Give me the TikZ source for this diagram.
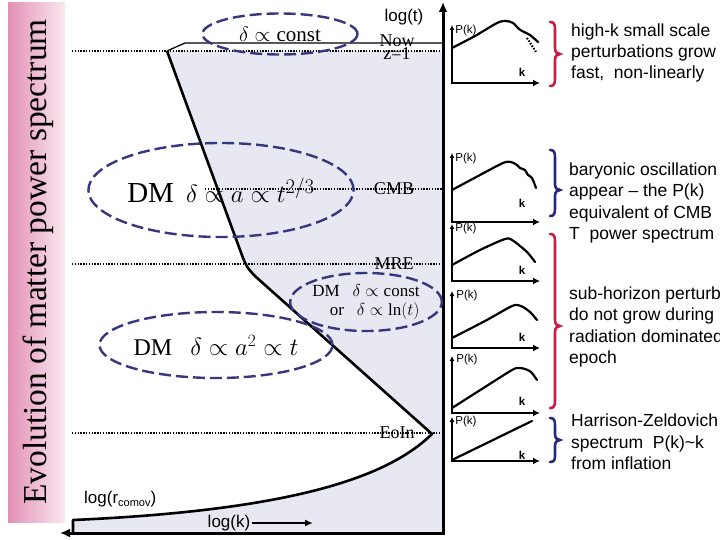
\documentclass[tikz,border=0pt]{standalone}
\usepackage{fontspec}
\setmainfont{Liberation Serif}
\newfontfamily\arialf{Liberation Sans}
\usetikzlibrary{arrows.meta,shapes.geometric}
\definecolor{shadecol}{RGB}{232,232,243}
\definecolor{ellblue}{RGB}{55,55,125}
\definecolor{bracered}{RGB}{200,30,70}
\definecolor{braceblue}{RGB}{40,40,130}
\definecolor{pinkL}{RGB}{226,145,182}
\definecolor{pinkR}{RGB}{250,232,240}
\begin{document}
\begin{tikzpicture}[x=1pt,y=-1pt,
  dotline/.style={line width=2.8pt, dash pattern=on 1.4pt off 1.4pt},
  ellip/.style={ellipse, draw=ellblue, line width=2.4pt, dash pattern=on 12pt off 5pt, inner sep=0pt},
  linelabel/.style={font=\fontsize{18}{20}\selectfont, inner sep=0pt},
  axisbig/.style={line width=3pt},
  pkaxis/.style={line width=2.6pt, {Latex[length=5pt,width=5pt]}-{Latex[length=7pt,width=7pt]}},
  pkcurve/.style={line width=2.2pt, line join=round, line cap=round},
  pklab/.style={font=\arialf\fontsize{11.5}{12}\selectfont, inner sep=0pt},
  klab/.style={font=\arialf\bfseries\fontsize{11.5}{12}\selectfont, inner sep=0pt},
  bracestyle/.style={line width=2.6pt, line cap=round},
  righttext/.style={font=\arialf\fontsize{17.5}{21.3}\selectfont, align=left, anchor=west, inner sep=0pt},
  axlab/.style={font=\arialf\fontsize{17}{19}\selectfont, inner sep=0pt}]
\useasboundingbox (0,0) rectangle (720,540);
\fill[white] (0,0) rectangle (720,540);

% left title bar
\shade[left color=pinkL, right color=pinkR] (8,3) rectangle (65,522);
\node[rotate=90, font=\fontsize{33.5}{36}\selectfont, inner sep=0pt] (title) at (38,262) {Evolution of matter power spectrum};

% shaded region
\fill[shadecol] (167,51) -- (443,51) -- (443,533) -- (73,533) -- (73,520)
  .. controls (300,510) and (390,475) .. (432,434) -- (256,277)
  .. controls (250,271) and (247,268) .. (243,258) -- cycle;

% dotted epoch lines
\coordinate (nowL) at (72,51);   \coordinate (nowR) at (443,51);
\coordinate (cmbL) at (205,189); \coordinate (cmbR) at (443,189);
\coordinate (mreL) at (72,264);  \coordinate (mreR) at (443,264);
\coordinate (eoiL) at (72,433);  \coordinate (eoiR) at (443,433);
\draw[dotline] (nowL) -- (nowR);
\draw[dotline] (cmbL) -- (cmbR);
\draw[dotline] (mreL) -- (mreR);
\draw[dotline] (eoiL) -- (eoiR);

% horizon curve
\draw[line width=1.3pt] (167,51) -- (176,47) -- (185,43) -- (443,43);
\draw[line width=2.6pt, line join=round] (167,51) -- (243,258)
  .. controls (247,268) and (250,271) .. (256,277) -- (432,434)
  .. controls (390,475) and (300,510) .. (73,520) -- (73,533);

% axes
\coordinate (origin) at (443,533);
\coordinate (ttop) at (443,2);
\coordinate (kleft) at (60,533);
\draw[axisbig, {Latex[length=10pt,width=9pt]}-{Latex[length=10pt,width=9pt]}] (ttop) -- (origin) -- (kleft);
\node[axlab] (logt) at (404,17) {log(t)};
\node[axlab, anchor=west] (logr) at (84,499) {log(r{\fontsize{11}{12}\selectfont\raisebox{-3pt}{comov}})};
\node[axlab] (logk) at (229,523) {log(k)};
\coordinate (karrow) at (313,523);
\draw[line width=2pt, -{Latex[length=8pt,width=7pt]}] (logk.east) ++(2,0) -- (karrow);

% epoch labels
\node[linelabel] (now) at (397,41) {Now};
\node[linelabel] (z1) at (397,54) {z=1};
\node[linelabel] (cmb) at (394,189) {CMB};
\node[linelabel] (mre) at (394,264) {MRE};
\node[linelabel] (eoin) at (397,433) {EoIn};

% ellipses
\node[ellip, minimum width=155, minimum height=41, font=\fontsize{21}{24}\selectfont] (e1) at (280,34) {$\delta\propto\mathrm{const}$};
\node[ellip, minimum width=252, minimum height=94, font=\fontsize{29}{32}\selectfont] (e2) at (221,190) {DM\, $\delta\propto a\propto t^{2/3}$};
\node[ellip, minimum width=148, minimum height=58, font=\fontsize{17}{19}\selectfont, align=right] (e3) at (366,302) {DM~~ $\delta\propto\mathrm{const}$\\ or~~ $\delta\propto\ln(t)$};
\node[ellip, minimum width=218, minimum height=66, font=\fontsize{24}{27}\selectfont] (e4) at (216,345) {DM~~ $\delta\propto a^2\propto t$};

% P(k) panels
% 1
\draw[pkaxis] (452,25) -- (452,83) -- (540,83);
\node[pklab] (p1) at (466,31) {P(k)};
\node[klab] (k1) at (522,72) {k};
\draw[pkcurve] plot[smooth] coordinates {(452,48) (475,36) (497,23) (506,21) (513,23) (519,29) (524,32) (530,35) (538,42)};
\draw[line width=2.2pt, dash pattern=on 1.5pt off 1.5pt] (527,38) -- (536,52);
% 2
\draw[pkaxis] (452,153) -- (452,222) -- (540,222);
\node[pklab] (p2) at (466,159) {P(k)};
\node[klab] (k2) at (522,203) {k};
\draw[pkcurve] plot[smooth] coordinates {(452,190) (480,175) (503,163) (511,162) (517,165) (520,168) (525,170) (528,175) (532,178) (536,188)};
% 3
\draw[pkaxis] (452,224) -- (452,281) -- (540,281);
\node[pklab] (p3) at (466,229) {P(k)};
\node[klab] (k3) at (522,270) {k};
\draw[pkcurve] plot[smooth] coordinates {(452,265) (480,250) (505,239) (512,240) (520,246) (528,253) (535,262)};
% 4
\draw[pkaxis] (452,291) -- (452,348) -- (540,348);
\node[pklab] (p4) at (467,296) {P(k)};
\node[klab] (k4) at (522,337) {k};
\draw[pkcurve] plot[smooth] coordinates {(452,338) (485,321) (510,307) (517,305) (523,307) (530,312) (537,320)};
% 5
\draw[pkaxis] (452,356) -- (452,413) -- (540,413);
\node[pklab] (p5) at (467,360) {P(k)};
\node[klab] (k5) at (522,401) {k};
\draw[pkcurve] plot[smooth] coordinates {(452,408) (485,387) (512,370) (519,368) (525,369) (531,372) (537,380)};
% 6
\draw[pkaxis] (452,417) -- (452,461) -- (540,461);
\node[pklab] (p6) at (466,422) {P(k)};
\node[klab] (k6) at (522,455) {k};
\draw[pkcurve] (452,460) -- (532,421);

% braces
\draw[bracestyle, bracered] (550,22) .. controls (554,22) and (555,24) .. (555,30) -- (555,48)
  .. controls (555,52) and (557,54) .. (560,54) .. controls (557,54) and (555,56) .. (555,60)
  -- (555,78) .. controls (555,84) and (554,86) .. (550,86);
\draw[bracestyle, braceblue] (550,150) .. controls (554,150) and (555,152) .. (555,158) -- (555,184)
  .. controls (555,188) and (557,190) .. (560,190) .. controls (557,190) and (555,192) .. (555,196)
  -- (555,208) .. controls (555,214) and (554,216) .. (550,216);
\draw[bracestyle, bracered] (550,234) .. controls (554,234) and (555,236) .. (555,242) -- (555,320)
  .. controls (555,324) and (557,326) .. (560,326) .. controls (557,326) and (555,328) .. (555,332)
  -- (555,400) .. controls (555,406) and (554,408) .. (550,408);
\draw[bracestyle, braceblue] (550,418) .. controls (554,418) and (555,420) .. (555,426) -- (555,434)
  .. controls (555,438) and (557,440) .. (560,440) .. controls (557,440) and (555,442) .. (555,446)
  -- (555,456) .. controls (555,460) and (554,462) .. (550,462);

% right texts
\node[righttext] (t1) at (571,53) {high-k small scale\\perturbations grow\\fast,~~non-linearly};
\node[righttext] (t2) at (569,203) {baryonic oscillation\\appear – the P(k)\\equivalent of CMB\\T~~power spectrum};
\node[righttext] (t3) at (569,327) {sub-horizon perturb\\do not grow during\\radiation dominated\\epoch};
\node[righttext] (t4) at (571,442) {Harrison-Zeldovich\\spectrum~~P(k)\textasciitilde k\\from inflation};
\end{tikzpicture}
\end{document}
